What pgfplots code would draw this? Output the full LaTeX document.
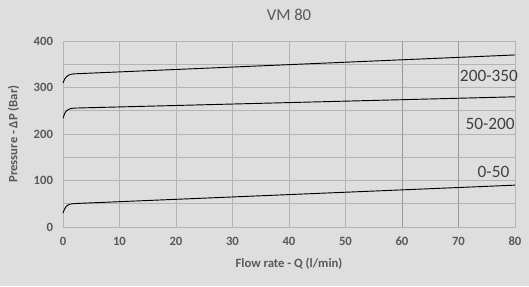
\documentclass[border=0pt]{standalone}
\usepackage{pgfplots}
\pgfplotsset{compat=1.18}
\usepackage{fontspec}
\setmainfont{Carlito}
\definecolor{bg}{HTML}{DEDEDE}
\definecolor{gridc}{HTML}{B4B4B4}
\definecolor{gridd}{HTML}{999999}
\definecolor{txt}{HTML}{595959}
\definecolor{lbl}{HTML}{404040}
\begin{document}
\begin{tikzpicture}[x=1pt,y=1pt]
\fill[bg] (-47.25,-44.25) rectangle (349.5,170.25);
\begin{axis}[
  at={(0,0)}, anchor=south west,
  scale only axis, width=339pt, height=139.5pt,
  xmin=0, xmax=80, ymin=0, ymax=400,
  xtick={0,10,...,80}, ytick={0,100,...,400},
  extra y ticks={50,150,250,350}, extra y tick labels={},
  extra y tick style={grid=major, major tick length=0pt},
  extra x ticks={60,70}, extra x tick labels={},
  extra x tick style={grid=major, major tick length=0pt, major grid style={draw=gridd, line width=0.7pt}},
  grid=major, major grid style={draw=gridc, line width=0.6pt},
  axis line style={draw=gridc, line width=0.6pt},
  major tick length=0pt,
  tick label style={font=\fontsize{9.5}{10}\selectfont\bfseries, text=txt},
  /pgf/number format/assume math mode=true,
  xticklabel style={yshift=-4pt},
  yticklabel style={xshift=-4pt},
  xlabel={Flow rate - Q (l/min)}, ylabel={Pressure - ΔP (Bar)},
  label style={font=\fontsize{9.5}{11}\selectfont\bfseries, text=txt},
  xlabel style={yshift=-2pt},
  ylabel style={yshift=4pt},
  title={VM 80}, title style={font=\fontsize{12.5}{14}\selectfont, text=txt, yshift=6pt},
  axis background/.style={fill=bg},
  clip=false,
]
\addplot[black, line width=0.7pt] coordinates {(0,310) (0.15,314) (0.3,318) (0.5,321.5) (0.75,324.5) (1,326.5) (1.3,328) (1.7,329) (2.2,329.5) (80,370)};
\addplot[black, line width=0.7pt] coordinates {(0,234) (0.15,239) (0.3,244) (0.5,248) (0.75,251) (1,253) (1.3,254.5) (1.7,255.3) (2.2,255.8) (80,280)};
\addplot[black, line width=0.7pt] coordinates {(0,30) (0.15,35) (0.3,39) (0.5,43) (0.75,46) (1,48) (1.3,49.2) (1.7,50) (2.2,50.5) (80,90)};
\node[font=\fontsize{13}{14}\selectfont, text=lbl] at (axis cs:75.4,325) {200-350};
\node[font=\fontsize{13}{14}\selectfont, text=lbl] at (axis cs:75.6,221) {50-200};
\node[font=\fontsize{13}{14}\selectfont, text=lbl] at (axis cs:76.2,118) {0-50};
\end{axis}
\end{tikzpicture}
\end{document}
